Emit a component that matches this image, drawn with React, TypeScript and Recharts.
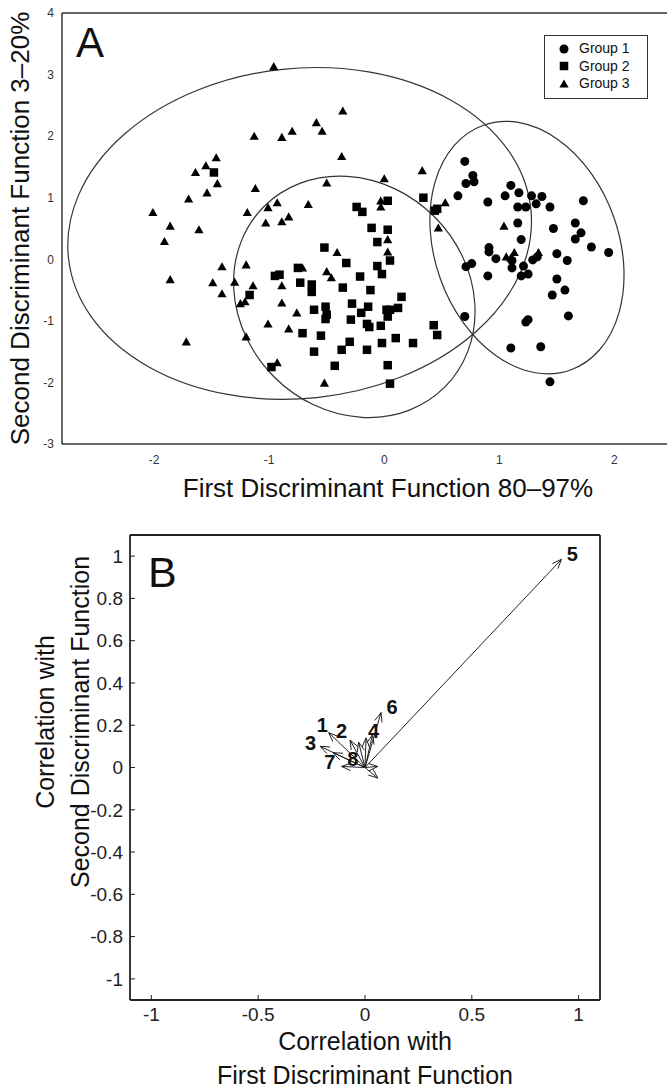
import type { ReactElement } from 'react';
import {
  Legend,
  ReferenceArea,
  ReferenceLine,
  Scatter,
  ScatterChart,
  XAxis,
  YAxis,
} from 'recharts';

const FONT = '"Liberation Sans", Arial, Helvetica, sans-serif';
const INK = '#222';

// ---- Panel A: discriminant scores (x = first function, y = second) ----
const group1: [number, number][] = [
  [0.7, 1.59], [0.77, 1.36], [0.71, 1.23], [0.78, 1.26], [0.64, 1.03], [0.9, 0.93],
  [1.1, 1.2], [1.17, 1.08], [1.05, 1.03], [1.28, 1.03], [1.37, 1.02], [1.32, 0.9],
  [1.16, 0.85], [1.23, 0.85], [1.44, 0.85], [1.73, 0.95], [1.16, 0.59], [1.66, 0.59],
  [1.47, 0.5], [1.71, 0.43], [1.66, 0.33], [1.19, 0.32], [0.91, 0.19], [1.8, 0.2],
  [1.95, 0.11], [0.91, 0.12], [0.97, 0.01], [1.11, -0.02], [1.11, -0.14], [1.21, -0.11],
  [1.29, -0.01], [1.33, 0.04], [1.19, -0.27], [1.25, -0.24], [0.9, -0.27], [1.5, 0.09],
  [1.59, -0.02], [1.5, -0.32], [1.57, -0.5], [1.46, -0.58], [0.71, -0.12], [0.76, -0.07],
  [0.7, -0.93], [1.23, -1.02], [1.25, -0.98], [1.6, -0.92], [1.1, -1.44], [1.36, -1.42],
  [1.44, -1.99],
];

const group2: [number, number][] = [
  [-1.48, 1.41], [-0.52, 0.19], [-0.95, -0.27], [-0.91, -0.25], [-0.75, -0.14], [-0.73, -0.38],
  [-0.63, -0.41], [-0.63, -0.53], [-1.17, -0.58], [-0.61, -0.82], [-0.51, -0.77], [-0.5, -0.9],
  [-0.51, -0.97], [-0.71, -1.2], [-0.55, -1.24], [-0.61, -1.5], [-0.98, -1.75], [-0.43, -1.73],
  [0.03, 0.95], [-0.24, 0.85], [-0.19, 0.77], [0.34, 1.0], [0.46, 0.82], [0.44, 0.79],
  [-0.11, 0.51], [0.03, 0.48], [-0.06, 0.28], [-0.33, -0.06], [-0.06, -0.11], [-0.02, -0.24],
  [0.05, -0.02], [-0.21, -0.28], [-0.36, -0.46], [-0.12, -0.5], [0.15, -0.61], [-0.28, -0.72],
  [-0.14, -0.77], [-0.2, -0.87], [0.02, -0.82], [0.05, -0.82], [0.12, -0.79], [0.03, -0.93],
  [-0.29, -0.98], [-0.15, -1.05], [-0.13, -1.1], [-0.03, -1.08], [0.43, -1.07], [0.46, -1.23],
  [-0.3, -1.34], [-0.37, -1.47], [-0.15, -1.47], [-0.02, -1.36], [0.1, -1.28], [0.25, -1.36],
  [0.03, -1.72], [0.05, -2.02],
];

const group3: [number, number][] = [
  [-0.96, 3.13], [-1.13, 2.0], [-0.89, 1.98], [-0.8, 2.08], [-0.59, 2.22], [-0.54, 2.08],
  [-1.46, 1.65], [-1.55, 1.52], [-1.64, 1.41], [-1.45, 1.23], [-1.54, 1.08], [-1.7, 0.98],
  [-1.12, 1.15], [-0.5, 1.24], [-2.01, 0.76], [-1.86, 0.54], [-1.61, 0.48], [-1.91, 0.29],
  [-1.19, 0.76], [-1.01, 0.84], [-0.93, 0.92], [-0.66, 0.89], [-1.03, 0.59], [-0.89, 0.61],
  [-0.83, 0.69], [-1.41, -0.12], [-1.2, -0.09], [-1.86, -0.33], [-1.49, -0.38], [-1.3, -0.37],
  [-1.41, -0.56], [-1.14, -0.43], [-1.21, -0.69], [-1.25, -0.72], [-0.89, -0.71], [-0.89, -0.43],
  [-0.76, -0.87], [-1.01, -1.05], [-0.83, -1.13], [-1.72, -1.34], [-1.2, -1.26], [-0.93, -1.68],
  [-0.52, -2.01], [-0.71, -0.14], [-0.5, -0.2], [-0.46, -0.3], [-0.41, 0.11], [-0.36, 2.41],
  [-0.37, 1.67], [0.33, 1.44], [0.0, 1.31], [-0.03, 0.95], [-0.03, 0.85], [0.53, 0.92],
  [0.47, 0.51], [1.04, 0.54], [0.03, 0.32], [0.03, 0.12], [1.06, 0.04], [1.13, 0.11],
  [1.1, 0.02], [1.34, 0.11],
];

const groupNames = ['Group 1', 'Group 2', 'Group 3'];

// group ellipses: centre, semi-axes (data units), tilt in degrees
const ellipseCentres: [number, number][] = [[1.24, 0.19], [-0.26, -0.61], [-0.735, 0.42]];
const ellipseRadii: [number, number][] = [[0.8, 2.11], [1.11, 1.84], [2.02, 2.68]];
const ellipseTilts = [-19.6, 45, -6];

const scoreXTicks = [-2, -1, 0, 1, 2];
const scoreYTicks = [-3, -2, -1, 0, 1, 2, 3, 4];

// ---- Panel B: correlations of variables with the two functions ----
const loadingX = [-0.17, -0.07, -0.21, 0.035, 0.92, 0.075, -0.15, -0.11, -0.03, 0.005, 0.06, 0.06];
const loadingY = [0.165, 0.13, 0.1, 0.155, 0.985, 0.26, 0.07, 0.005, 0.12, 0.14, 0.005, -0.05];
const varLabels = ['1', '2', '3', '4', '5', '6', '7', '8'];
const varLabelX = [-0.2, -0.11, -0.255, 0.04, 0.97, 0.127, -0.165, -0.057];
const varLabelY = [0.2, 0.175, 0.115, 0.175, 1.01, 0.285, 0.025, 0.04];

const corrXTicks = [-1, -0.5, 0, 0.5, 1];
const corrYTicks = [-1, -0.8, -0.6, -0.4, -0.2, 0, 0.2, 0.4, 0.6, 0.8, 1];

const toPoints = (rows: [number, number][]) => rows.map(([x, y]) => ({ x, y }));

const Dot = (p: any) => <circle cx={p.cx} cy={p.cy} r={4.5} fill="#000" />;
const Square = (p: any) => (
  <rect x={p.cx - 4.25} y={p.cy - 4.25} width={8.5} height={8.5} fill="#000" />
);
const Triangle = (p: any) => (
  <path
    d={`M${p.cx},${p.cy - 4.5}L${p.cx + 4.6},${p.cy + 3.6}L${p.cx - 4.6},${p.cy + 3.6}Z`}
    fill="#000"
  />
);
const markers = [Dot, Square, Triangle];

function EllipseShape(tilt: number) {
  return (p: any) => {
    const cx = p.x + p.width / 2;
    const cy = p.y + p.height / 2;
    return (
      <ellipse
        cx={cx}
        cy={cy}
        rx={Math.abs(p.width) / 2}
        ry={Math.abs(p.height) / 2}
        transform={`rotate(${tilt} ${cx} ${cy})`}
        fill="none"
        stroke="#333"
        strokeWidth={1.2}
      />
    );
  };
}

function GroupLegend(): ReactElement {
  return (
    <div
      style={{
        width: 102,
        height: 58,
        boxSizing: 'content-box',
        border: '1px solid #333',
        background: '#fff',
        fontFamily: FONT,
        fontSize: 14,
        lineHeight: '17.5px',
        color: '#111',
        paddingTop: 4,
      }}
    >
      {groupNames.map((name, i) => {
        const M = markers[i];
        return (
          <div key={name} style={{ display: 'flex', alignItems: 'center', height: 17.5 }}>
            <svg width={34} height={12} style={{ display: 'block' }}>
              <M cx={19} cy={6} />
            </svg>
            <span>{name}</span>
          </div>
        );
      })}
    </div>
  );
}

function Arrow(p: any): ReactElement {
  const { x1, y1, x2, y2 } = p;
  const ang = Math.atan2(y2 - y1, x2 - x1);
  const len = 10;
  const spread = 0.38;
  const ax = x2 - len * Math.cos(ang - spread);
  const ay = y2 - len * Math.sin(ang - spread);
  const bx = x2 - len * Math.cos(ang + spread);
  const by = y2 - len * Math.sin(ang + spread);
  return (
    <g stroke={INK} strokeWidth={1} fill="none">
      <line x1={x1} y1={y1} x2={x2} y2={y2} />
      <polyline points={`${ax},${ay} ${x2},${y2} ${bx},${by}`} />
    </g>
  );
}

const VarLabel = (p: any) => (
  <text
    x={p.cx}
    y={p.cy}
    textAnchor="middle"
    dominantBaseline="central"
    fontFamily={FONT}
    fontWeight="bold"
    fontSize={20}
    fill="#111"
  >
    {p.payload.label}
  </text>
);

export default function App(): ReactElement {
  const groups = [group1, group2, group3].map(toPoints);
  const arrows = loadingX.map((x, i) => ({ x, y: loadingY[i] }));
  const labels = varLabels.map((label, i) => ({ x: varLabelX[i], y: varLabelY[i], label }));
  const scoreTick = { fontSize: 12, fill: '#333', fontFamily: FONT };
  const corrTick = { fontSize: 19, fill: INK, fontFamily: FONT };

  return (
    <div
      style={{
        position: 'absolute',
        left: 0,
        top: 0,
        width: 667,
        height: 1089,
        overflow: 'hidden',
        background: '#fff',
      }}
    >
      <div style={{ position: 'absolute', left: 0, top: 0 }}>
        <ScatterChart width={760} height={505} margin={{ top: 12, right: 42, bottom: 31, left: 2 }}>
          <XAxis
            type="number"
            dataKey="x"
            domain={[-2.8, 2.9]}
            ticks={scoreXTicks}
            allowDataOverflow
            height={30}
            tickLine={false}
            tickSize={0}
            tickMargin={11}
            tick={scoreTick}
            axisLine={{ stroke: '#333', strokeWidth: 1.5 }}
            label={(p: any) => {
              const vb = p.viewBox ?? { x: 62, y: 444, width: 656 };
              return (
                <text
                  x={vb.x + vb.width / 2 - 2}
                  y={vb.y + 53}
                  textAnchor="middle"
                  fontFamily={FONT}
                  fontSize={26}
                  fill="#111"
                >
                  First Discriminant Function 80–97%
                </text>
              );
            }}
          />
          <XAxis
            xAxisId="top"
            orientation="top"
            type="number"
            dataKey="x"
            domain={[-2.8, 2.9]}
            allowDataOverflow
            height={1}
            tick={false}
            tickLine={false}
            axisLine={{ stroke: '#333', strokeWidth: 1.5 }}
          />
          <YAxis
            type="number"
            dataKey="y"
            domain={[-3, 4]}
            ticks={scoreYTicks}
            allowDataOverflow
            width={60}
            tickLine={false}
            tickSize={0}
            tickMargin={8}
            tick={scoreTick}
            axisLine={{ stroke: '#333', strokeWidth: 1.5 }}
            label={(p: any) => {
              const vb = p.viewBox ?? { x: 2, y: 13, width: 60, height: 431 };
              const cx = 29;
              const cy = vb.y + vb.height / 2;
              return (
                <text
                  x={cx}
                  y={cy}
                  transform={`rotate(-90 ${cx} ${cy})`}
                  textAnchor="middle"
                  fontFamily={FONT}
                  fontSize={26}
                  fill="#111"
                >
                  Second Discriminant Function 3–20%
                </text>
              );
            }}
          />
          {ellipseCentres.map(([cx, cy], i) => (
            <ReferenceArea
              key={`ell-${i}`}
              x1={cx - ellipseRadii[i][0]}
              x2={cx + ellipseRadii[i][0]}
              y1={cy - ellipseRadii[i][1]}
              y2={cy + ellipseRadii[i][1]}
              ifOverflow="visible"
              shape={EllipseShape(ellipseTilts[i])}
            />
          ))}
          {groups.map((data, i) => (
            <Scatter
              key={groupNames[i]}
              name={groupNames[i]}
              data={data}
              shape={markers[i]}
              isAnimationActive={false}
            />
          ))}
          <Legend
            layout="vertical"
            align="center"
            verticalAlign="middle"
            content={() => <GroupLegend />}
            wrapperStyle={{ position: 'absolute', left: 544, top: 35, width: 104, height: 62 }}
          />
        </ScatterChart>
        <span
          style={{
            position: 'absolute',
            left: 76,
            top: 19,
            fontFamily: FONT,
            fontSize: 42,
            lineHeight: '48px',
            color: '#111',
          }}
        >
          A
        </span>
      </div>

      <div style={{ position: 'absolute', left: 0, top: 505 }}>
        <ScatterChart width={667} height={584} margin={{ top: 25, right: 62, bottom: 9, left: 60 }}>
          <XAxis
            type="number"
            dataKey="x"
            domain={[-1.1, 1.1]}
            ticks={corrXTicks}
            allowDataOverflow
            height={80}
            tickSize={-5}
            tickMargin={13}
            tick={corrTick}
            tickLine={{ stroke: INK }}
            axisLine={{ stroke: INK, strokeWidth: 1.8 }}
            label={(p: any) => {
              const vb = p.viewBox ?? { x: 130, y: 495, width: 470 };
              const cx = vb.x + vb.width / 2;
              return (
                <text textAnchor="middle" fontFamily={FONT} fontSize={25} fill="#111">
                  <tspan x={cx} y={vb.y + 50}>Correlation with</tspan>
                  <tspan x={cx} y={vb.y + 84}>First Discriminant Function</tspan>
                </text>
              );
            }}
          />
          <XAxis
            xAxisId="top"
            orientation="top"
            type="number"
            dataKey="x"
            domain={[-1.1, 1.1]}
            ticks={corrXTicks}
            allowDataOverflow
            height={5}
            tickSize={-5}
            tick={false}
            tickLine={{ stroke: INK }}
            axisLine={{ stroke: INK, strokeWidth: 1.8 }}
          />
          <YAxis
            type="number"
            dataKey="y"
            domain={[-1.1, 1.1]}
            ticks={corrYTicks}
            allowDataOverflow
            width={70}
            tickSize={-5}
            tickMargin={12}
            tick={corrTick}
            tickLine={{ stroke: INK }}
            axisLine={{ stroke: INK, strokeWidth: 1.8 }}
            label={() => {
              const cy = 217;
              return (
                <text
                  transform={`rotate(-90 54 ${cy})`}
                  textAnchor="middle"
                  fontFamily={FONT}
                  fontSize={25}
                  fill="#111"
                >
                  <tspan x={54} y={cy}>Correlation with</tspan>
                  <tspan x={54} y={cy + 35}>Second Discriminant Function</tspan>
                </text>
              );
            }}
          />
          <YAxis
            yAxisId="right"
            orientation="right"
            type="number"
            dataKey="y"
            domain={[-1.1, 1.1]}
            ticks={corrYTicks}
            allowDataOverflow
            width={5}
            tickSize={-5}
            tick={false}
            tickLine={{ stroke: INK }}
            axisLine={{ stroke: INK, strokeWidth: 1.8 }}
          />
          {arrows.map((a, i) => (
            <ReferenceLine
              key={`arrow-${i}`}
              segment={[{ x: 0, y: 0 }, { x: a.x, y: a.y }]}
              shape={Arrow}
            />
          ))}
          <Scatter data={labels} shape={VarLabel} isAnimationActive={false} />
        </ScatterChart>
        <span
          style={{
            position: 'absolute',
            left: 148,
            top: 43,
            fontFamily: FONT,
            fontSize: 43,
            lineHeight: '48px',
            color: '#111',
          }}
        >
          B
        </span>
      </div>
    </div>
  );
}
